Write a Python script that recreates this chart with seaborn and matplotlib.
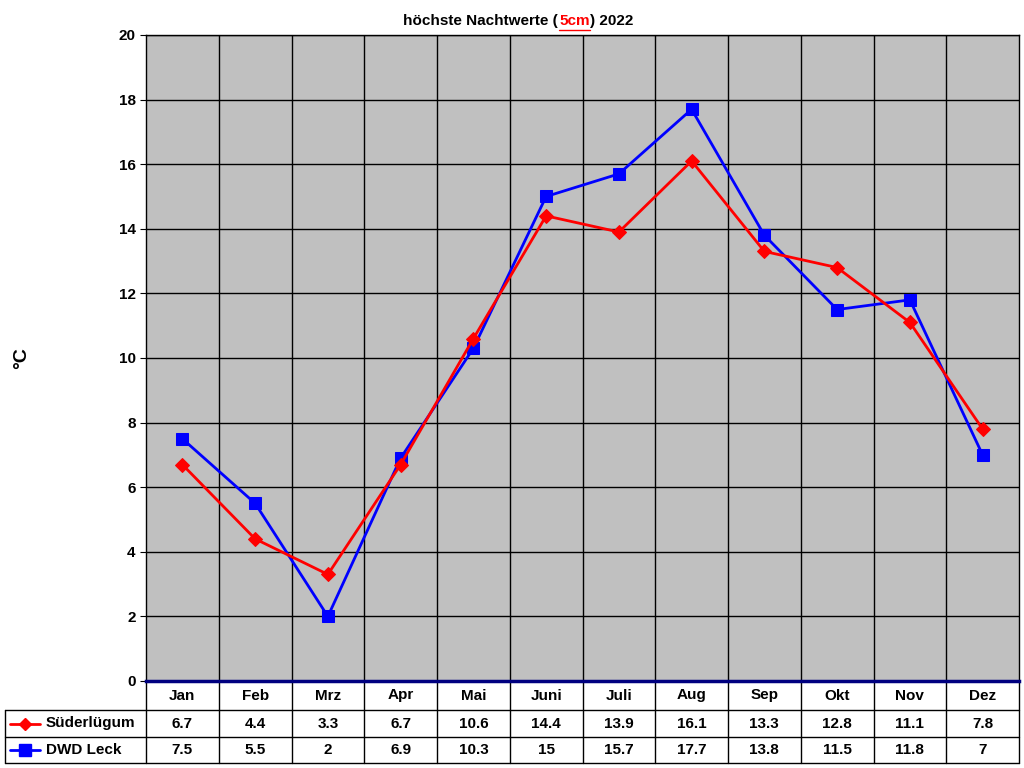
import matplotlib
matplotlib.use("Agg")
import matplotlib.pyplot as plt
import seaborn as sns
import pandas as pd

months = ["Jan","Feb","Mrz","Apr","Mai","Juni","Juli","Aug","Sep","Okt","Nov","Dez"]
suederluegum = [6.7,4.4,3.3,6.7,10.6,14.4,13.9,16.1,13.3,12.8,11.1,7.8]
dwd_leck = [7.5,5.5,2,6.9,10.3,15,15.7,17.7,13.8,11.5,11.8,7]
labels_s = ["6.7","4.4","3.3","6.7","10.6","14.4","13.9","16.1","13.3","12.8","11.1","7.8"]
labels_d = ["7.5","5.5","2","6.9","10.3","15","15.7","17.7","13.8","11.5","11.8","7"]

sns.set_style("white")
plt.rcParams['font.family'] = ['Liberation Sans', 'DejaVu Sans']
plt.rcParams['text.color'] = 'black'
plt.rcParams['ytick.color'] = 'black'
plt.rcParams['ytick.labelcolor'] = 'black'
fig = plt.figure(figsize=(10.24,7.68), dpi=100)
ax = fig.add_axes([146/1024, 1-681/768, 873/1024, 646/768])
ax.set_facecolor("#C0C0C0")
x = list(range(12))
df = pd.DataFrame({"x": x*2, "y": suederluegum+dwd_leck,
                   "s": ["Süderlügum"]*12+["DWD Leck"]*12})
sns.lineplot(data=df[df.s=="Süderlügum"], x="x", y="y", color="#FF0000", marker="D",
             markersize=7, lw=2, markeredgecolor="#FF0000", ax=ax, legend=False, zorder=4)
sns.lineplot(data=df[df.s=="DWD Leck"], x="x", y="y", color="#0000FF", marker="s",
             markersize=9, lw=2, markeredgecolor="#0000FF", ax=ax, legend=False, zorder=3)
ax.set_xlim(-0.5, 11.5)
ax.set_ylim(0, 20)
ax.set_yticks(range(0, 21, 2))
ax.set_yticklabels([str(v) for v in range(0,21,2)], fontsize=11, fontweight="bold", color="black")
ax.set_xticks([])
ax.set_xlabel(""); ax.set_ylabel("")
for v in range(2, 21, 2):
    ax.axhline(v, color="black", lw=1, zorder=1)
for i in range(1, 12):
    ax.axvline(i-0.5, color="black", lw=1, zorder=1)
for s in ax.spines.values():
    s.set_color("black"); s.set_linewidth(1)
ax.spines["bottom"].set_color("#000080"); ax.spines["bottom"].set_linewidth(2.5)
ax.tick_params(axis="y", length=4, color="black", left=True)

H = 646.0; W = 873.0
r1 = -29/H; r2 = -56/H; r3 = -82/H
left = (5-146)/W
tr = ax.transAxes
def line(xs, ys, **kw):
    ax.plot(xs, ys, transform=tr, clip_on=False, color="black", lw=1, **kw)
for yy in [r1, r2, r3]:
    line([left, 1], [yy, yy])
line([0, 0], [0, r3]); line([1, 1], [0, r3]); line([left, left], [r1, r3])
for i in range(1, 12):
    xf = i/12
    line([xf, xf], [0, r3])
for i in range(12):
    xf = (i+0.5)/12
    ax.text(xf, r1/2, months[i], transform=tr, ha="center", va="center", fontsize=11, fontweight="bold")
    ax.text(xf, (r1+r2)/2, labels_s[i], transform=tr, ha="center", va="center", fontsize=11, fontweight="bold")
    ax.text(xf, (r2+r3)/2, labels_d[i], transform=tr, ha="center", va="center", fontsize=11, fontweight="bold")
for (yy, col, mk, ms, name) in [((r1+r2)/2, "#FF0000", "D", 6, "Süderlügum"),
                                ((r2+r3)/2, "#0000FF", "s", 8, "DWD Leck")]:
    ax.plot([(10-146)/W, (40-146)/W], [yy, yy], transform=tr, clip_on=False, color=col, lw=2)
    ax.plot([(25-146)/W], [yy], transform=tr, clip_on=False, color=col, marker=mk, ms=ms)
    ax.text((46-146)/W, yy, name, transform=tr, ha="left", va="center", fontsize=11, fontweight="bold")

fig.text(22/1024, 1-358/768, "°C", rotation=90, ha="center", va="center", fontsize=14, fontweight="bold")
ty = 1-21/768
fig.text(558/1024, ty, "höchste Nachtwerte (", ha="right", va="center", fontsize=11, fontweight="bold")
fig.text(559/1024, ty, "5cm", ha="left", va="center", fontsize=11, fontweight="bold", color="red")
fig.add_artist(plt.Line2D([559/1024, 590/1024], [1-30/768, 1-30/768], color="red", lw=1))
fig.text(590/1024, ty, ") 2022", ha="left", va="center", fontsize=11, fontweight="bold")
fig.savefig("out.png", dpi=100, facecolor="white")
